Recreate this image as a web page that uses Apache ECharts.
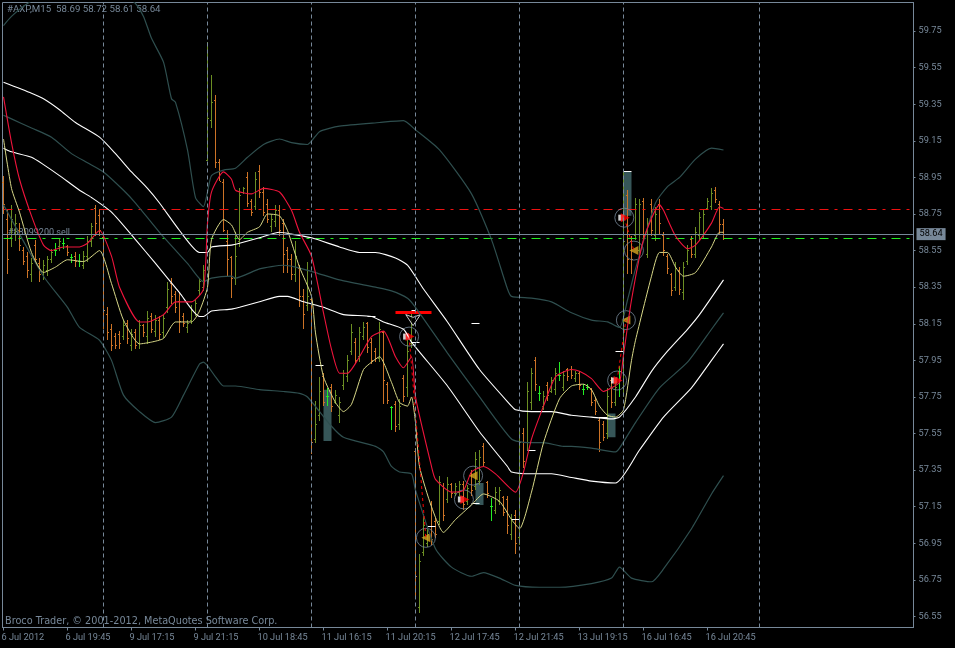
<!DOCTYPE html>
<html>
<head>
<meta charset="utf-8">
<title>#AXP,M15</title>
<script src="https://cdn.jsdelivr.net/npm/echarts@6/dist/echarts.min.js"></script>
<style>
  html, body { margin: 0; padding: 0; background: #000; }
  #chart { width: 955px; height: 648px; }
</style>
</head>
<body>
<div id="chart"></div>
<script>
// ---- chart data ----
const timeLabels = ['6 Jul 2012', '6 Jul 19:45', '9 Jul 17:15', '9 Jul 21:15', '10 Jul 18:45', '11 Jul 16:15',
  '11 Jul 20:15', '12 Jul 17:45', '12 Jul 21:45', '13 Jul 19:15', '16 Jul 16:45', '16 Jul 20:45']
const timeTickBars = [0, 16, 32, 48, 64, 80, 96, 112, 128, 144, 160, 176]
const priceTicks = [59.75, 59.55, 59.35, 59.15, 58.95, 58.75, 58.55, 58.35, 58.15, 57.95, 57.75, 57.55, 57.35, 57.15, 56.95, 56.75, 56.55]
const dayBreaks = [25, 51, 77, 103, 129, 155, 189]

const barOpen = [
  58.92, 58.72, 58.62, 58.64, 58.66, 58.55, 58.52, 58.42, 58.58, 58.48,
  58.42, 58.44, 58.50, 58.55, 58.57, 58.59, 58.57, 58.51, 58.52, 58.49,
  58.47, 58.52, 58.60, 58.78, 58.74, 58.62, 58.20, 58.12, 58.08, 58.09,
  58.08, 58.15, 58.03, 58.10, 58.04, 58.14, 58.08, 58.19, 58.11, 58.17,
  58.10, 58.24, 58.37, 58.31, 58.27, 58.19, 58.13, 58.17, 58.21, 58.33,
  58.35, 59.04, 59.26, 59.37, 59.03, 58.92, 58.60, 58.51, 58.40, 58.60,
  58.87, 58.95, 58.82, 58.79, 58.98, 58.87, 58.80, 58.68, 58.71, 58.77,
  58.70, 58.55, 58.50, 58.42, 58.45, 58.30, 58.25, 58.28, 57.52, 57.65,
  57.86, 57.75, 57.80, 57.72, 57.65, 57.81, 57.86, 58.00, 58.05, 57.97,
  58.08, 58.15, 58.05, 58.00, 57.96, 58.10, 57.82, 57.69, 57.71, 57.60,
  57.85, 57.80, 58.04, 57.45, 56.60, 56.90, 56.95, 57.16, 57.07, 57.07,
  57.26, 57.19, 57.27, 57.22, 57.23, 57.27, 57.18, 57.33, 57.26, 57.29,
  57.48, 57.28, 57.15, 57.13, 57.18, 57.20, 57.19, 57.00, 57.10, 56.98,
  57.55, 57.50, 57.72, 57.95, 57.77, 57.70, 57.81, 57.78, 57.79, 57.87,
  57.80, 57.90, 57.90, 57.85, 57.88, 57.79, 57.80, 57.79, 57.73, 57.62,
  57.60, 57.55, 57.84, 57.72, 57.89, 57.80, 58.85, 58.60, 58.63, 58.55,
  58.82, 58.53, 58.80, 58.63, 58.80, 58.63, 58.52, 58.42, 58.35, 58.44,
  58.32, 58.49, 58.61, 58.53, 58.63, 58.64, 58.78, 58.79, 58.88, 58.80,
  58.69
]
const barHigh = [
  58.96, 58.77, 58.80, 58.75, 58.70, 58.57, 58.54, 58.51, 58.61, 58.51,
  58.50, 58.52, 58.56, 58.59, 58.62, 58.62, 58.58, 58.53, 58.54, 58.53,
  58.55, 58.63, 58.70, 58.80, 58.78, 58.63, 58.24, 58.15, 58.10, 58.11,
  58.17, 58.17, 58.12, 58.12, 58.17, 58.15, 58.22, 58.21, 58.20, 58.19,
  58.20, 58.38, 58.40, 58.33, 58.32, 58.21, 58.17, 58.25, 58.28, 58.40,
  58.47, 59.69, 59.51, 59.40, 59.05, 58.94, 58.66, 58.52, 58.65, 58.89,
  58.90, 58.98, 58.83, 58.98, 59.02, 58.90, 58.83, 58.75, 58.80, 58.80,
  58.72, 58.57, 58.53, 58.60, 58.47, 58.34, 58.49, 58.29, 57.73, 57.86,
  57.88, 57.80, 57.82, 57.79, 57.75, 57.90, 57.98, 58.15, 58.07, 58.13,
  58.16, 58.16, 58.07, 58.02, 58.16, 58.11, 57.83, 57.70, 57.73, 57.74,
  57.87, 58.06, 58.22, 57.47, 56.89, 57.11, 57.03, 57.18, 57.09, 57.32,
  57.28, 57.31, 57.28, 57.28, 57.29, 57.29, 57.27, 57.35, 57.45, 57.46,
  57.50, 57.29, 57.20, 57.26, 57.26, 57.21, 57.21, 57.11, 57.13, 57.58,
  57.58, 57.83, 57.91, 57.97, 57.81, 57.78, 57.83, 57.86, 57.91, 57.94,
  57.89, 57.91, 57.92, 57.89, 57.89, 57.82, 57.82, 57.80, 57.75, 57.64,
  57.62, 57.80, 57.86, 57.84, 57.92, 58.98, 58.88, 58.63, 58.84, 58.83,
  58.84, 58.73, 58.83, 58.79, 58.83, 58.65, 58.53, 58.43, 58.49, 58.46,
  58.49, 58.58, 58.63, 58.68, 58.76, 58.77, 58.84, 58.89, 58.90, 58.82,
  58.72
]
const barLow = [
  58.75, 58.42, 58.57, 58.60, 58.55, 58.47, 58.40, 58.38, 58.48, 58.38,
  58.39, 58.41, 58.48, 58.52, 58.55, 58.56, 58.52, 58.48, 58.46, 58.46,
  58.45, 58.49, 58.57, 58.63, 58.63, 58.12, 58.06, 58.00, 58.01, 58.01,
  58.06, 58.04, 58.00, 58.01, 58.01, 58.08, 58.04, 58.10, 58.08, 58.06,
  58.07, 58.21, 58.26, 58.21, 58.10, 58.13, 58.10, 58.15, 58.19, 58.31,
  58.33, 59.04, 59.22, 59.00, 58.93, 58.65, 58.41, 58.29, 58.36, 58.57,
  58.86, 58.79, 58.74, 58.77, 58.84, 58.74, 58.70, 58.65, 58.68, 58.63,
  58.43, 58.43, 58.39, 58.38, 58.24, 58.12, 58.22, 57.44, 57.50, 57.62,
  57.70, 57.70, 57.67, 57.71, 57.61, 57.79, 57.83, 57.98, 57.93, 57.94,
  58.06, 57.99, 57.93, 57.94, 57.94, 57.71, 57.71, 57.57, 57.56, 57.57,
  57.72, 57.75, 58.02, 56.65, 56.57, 56.88, 56.93, 56.94, 56.98, 57.05,
  57.07, 57.17, 57.20, 57.21, 57.21, 57.13, 57.16, 57.21, 57.24, 57.27,
  57.37, 57.20, 57.07, 57.11, 57.16, 57.10, 57.00, 56.97, 56.89, 56.94,
  57.36, 57.46, 57.68, 57.78, 57.73, 57.68, 57.73, 57.77, 57.76, 57.84,
  57.78, 57.84, 57.85, 57.83, 57.79, 57.76, 57.79, 57.70, 57.65, 57.45,
  57.51, 57.52, 57.69, 57.70, 57.75, 57.75, 58.42, 58.42, 58.61, 58.51,
  58.60, 58.51, 58.63, 58.60, 58.64, 58.52, 58.42, 58.30, 58.33, 58.31,
  58.28, 58.47, 58.51, 58.51, 58.61, 58.62, 58.77, 58.77, 58.81, 58.64,
  58.61
]
const barClose = [
  58.80, 58.50, 58.72, 58.70, 58.58, 58.49, 58.44, 58.48, 58.50, 58.42,
  58.47, 58.50, 58.54, 58.55, 58.60, 58.59, 58.54, 58.51, 58.49, 58.49,
  58.52, 58.60, 58.68, 58.70, 58.66, 58.22, 58.10, 58.03, 58.03, 58.04,
  58.14, 58.07, 58.09, 58.03, 58.14, 58.10, 58.18, 58.12, 58.17, 58.09,
  58.18, 58.34, 58.30, 58.24, 58.16, 58.15, 58.15, 58.22, 58.26, 58.38,
  58.44, 59.27, 59.36, 59.03, 58.93, 58.66, 58.50, 58.40, 58.52, 58.85,
  58.89, 58.81, 58.76, 58.94, 58.87, 58.76, 58.72, 58.72, 58.77, 58.66,
  58.53, 58.50, 58.42, 58.52, 58.30, 58.20, 58.30, 57.50, 57.60, 57.78,
  57.72, 57.75, 57.70, 57.76, 57.72, 57.88, 57.95, 58.10, 57.95, 58.10,
  58.13, 58.02, 57.95, 57.96, 58.12, 57.84, 57.73, 57.69, 57.59, 57.70,
  57.75, 58.00, 58.18, 56.77, 56.85, 57.05, 57.00, 56.97, 57.00, 57.28,
  57.10, 57.27, 57.22, 57.26, 57.27, 57.16, 57.25, 57.24, 57.41, 57.42,
  57.39, 57.22, 57.15, 57.23, 57.24, 57.12, 57.05, 57.08, 56.95, 57.50,
  57.40, 57.78, 57.88, 57.82, 57.77, 57.75, 57.76, 57.84, 57.88, 57.87,
  57.87, 57.86, 57.87, 57.88, 57.81, 57.79, 57.80, 57.72, 57.67, 57.50,
  57.53, 57.75, 57.72, 57.80, 57.89, 58.60, 58.50, 58.50, 58.80, 58.80,
  58.63, 58.70, 58.66, 58.75, 58.70, 58.55, 58.45, 58.33, 58.45, 58.34,
  58.46, 58.55, 58.53, 58.65, 58.73, 58.75, 58.82, 58.86, 58.83, 58.69,
  58.64
]

// [bar, price]
const whiteUpper = [[0,59.47],[7,59.41],[10,59.38],[14,59.32],[18,59.25],[24,59.17],[28,59.08],[32,58.98],[36,58.89],[39,58.81],[44,58.66],[49,58.54],[51,58.54],[52,58.57],[57,58.58],[59,58.59],[64,58.62],[69,58.65],[72,58.64],[77,58.62],[84,58.57],[89,58.54],[93,58.54],[98,58.51],[101,58.47],[105,58.34],[111,58.16],[119,57.90],[127,57.70],[128,57.68],[132,57.67],[137,57.67],[142,57.65],[147,57.64],[152,57.63],[154,57.64],[158,57.75],[162,57.89],[166,58.00],[171,58.12],[174,58.20],[180,58.39]]
const whiteLower = [[0,59.11],[2,59.09],[7,59.06],[10,59.02],[14,58.96],[19,58.88],[22,58.84],[27,58.76],[33,58.61],[38,58.48],[44,58.32],[49,58.19],[50,58.19],[52,58.22],[57,58.23],[59,58.24],[64,58.27],[69,58.30],[71,58.30],[75,58.27],[80,58.24],[85,58.20],[92,58.19],[95,58.16],[100,58.12],[102,58.05],[111,57.81],[119,57.56],[126,57.37],[127,57.34],[132,57.33],[137,57.33],[142,57.31],[147,57.29],[153,57.28],[159,57.46],[165,57.64],[172,57.80],[177,57.95],[180,58.04]]
const bandUpper = [[0,59.78],[2,59.83],[6,59.90],[14,60.00],[24,60.03],[30,59.95],[33,59.90],[35,59.83],[37,59.71],[40,59.58],[42,59.38],[43,59.36],[46,59.10],[48,58.84],[50,58.79],[51,58.87],[52,58.96],[55,58.99],[58,59.00],[61,59.06],[65,59.13],[69,59.16],[72,59.14],[76,59.13],[79,59.20],[84,59.23],[94,59.25],[100,59.26],[103,59.21],[109,59.10],[117,58.86],[122,58.61],[126,58.34],[127,58.30],[132,58.29],[137,58.27],[142,58.21],[147,58.17],[151,58.16],[154,58.13],[156,58.28],[158,58.45],[163,58.81],[166,58.90],[169,58.95],[173,59.05],[177,59.11],[180,59.10]]
const bandMiddle = [[0,59.29],[2,59.27],[7,59.22],[12,59.17],[17,59.08],[21,59.03],[25,58.98],[30,58.88],[33,58.81],[39,58.65],[46,58.48],[50,58.38],[52,58.40],[57,58.41],[58,58.40],[64,58.45],[70,58.47],[73,58.46],[78,58.43],[84,58.39],[93,58.35],[97,58.33],[101,58.29],[103,58.24],[111,57.99],[119,57.75],[127,57.52],[131,57.50],[135,57.50],[140,57.48],[142,57.48],[147,57.47],[153,57.45],[154,57.47],[158,57.61],[164,57.80],[171,57.94],[177,58.12],[180,58.21]]
const bandLower = [[0,58.80],[10,58.41],[16,58.24],[19,58.13],[24,58.06],[27,57.95],[30,57.76],[34,57.67],[38,57.61],[42,57.64],[45,57.76],[49,57.93],[50,57.94],[53,57.86],[55,57.81],[58,57.81],[64,57.79],[70,57.78],[74,57.77],[76,57.75],[82,57.59],[85,57.53],[93,57.48],[95,57.45],[97,57.37],[99,57.34],[102,57.33],[103,57.24],[108,56.92],[112,56.82],[117,56.77],[120,56.79],[124,56.76],[128,56.72],[134,56.71],[139,56.71],[147,56.73],[152,56.76],[154,56.82],[157,56.76],[162,56.74],[165,56.81],[172,57.03],[177,57.22],[180,57.32]]
const fastLine = [[0,59.39],[2,59.14],[4,58.94],[7,58.74],[10,58.58],[12,58.55],[15,58.57],[19,58.57],[21,58.59],[24,58.66],[27,58.52],[29,58.35],[34,58.16],[36,58.16],[40,58.20],[43,58.27],[47,58.27],[50,58.34],[51,58.70],[52,58.87],[55,58.98],[57,58.94],[58,58.88],[62,58.86],[65,58.89],[69,58.87],[72,58.77],[74,58.65],[77,58.52],[80,58.21],[82,58.01],[84,57.88],[86,57.88],[89,57.97],[92,58.08],[95,58.11],[98,57.97],[100,57.91],[102,57.97],[103,57.75],[107,57.37],[108,57.30],[112,57.23],[115,57.24],[117,57.34],[120,57.37],[123,57.33],[128,57.23],[130,57.34],[132,57.52],[135,57.70],[138,57.86],[142,57.90],[144,57.89],[147,57.85],[150,57.78],[152,57.80],[154,57.83],[155,57.98],[157,58.28],[160,58.61],[164,58.80],[165,58.77],[168,58.63],[171,58.56],[173,58.58],[177,58.70],[179,58.79],[180,58.78]]
const slowLine = [[0,59.16],[2,58.89],[4,58.76],[7,58.54],[10,58.43],[13,58.46],[16,58.50],[20,58.49],[24,58.55],[27,58.37],[30,58.17],[34,58.04],[37,58.05],[40,58.07],[43,58.16],[47,58.16],[49,58.22],[51,58.35],[52,58.61],[55,58.72],[57,58.69],[59,58.61],[61,58.65],[64,58.68],[66,58.75],[69,58.74],[71,58.66],[74,58.46],[77,58.30],[78,58.10],[80,57.86],[83,57.72],[85,57.67],[87,57.71],[90,57.90],[92,57.94],[94,57.97],[97,57.83],[99,57.72],[101,57.70],[102,57.75],[103,57.61],[104,57.37],[107,57.15],[110,57.01],[113,57.08],[117,57.16],[120,57.22],[124,57.18],[127,57.08],[129,57.03],[132,57.23],[135,57.50],[139,57.74],[142,57.81],[145,57.82],[147,57.79],[149,57.70],[151,57.65],[153,57.64],[155,57.68],[157,57.95],[158,58.06],[162,58.41],[164,58.54],[166,58.54],[168,58.46],[170,58.41],[173,58.43],[177,58.57],[179,58.65],[180,58.65]]

const bidPrice = 58.64
const redLevel = 58.775
const greenLevel = 58.614

// [from bar, to bar, top price, bottom price]
const blocks = [[80, 82, 57.79, 57.51], [118, 120, 57.28, 57.16], [151, 153, 57.66, 57.53], [155, 157, 58.98, 58.74]]
// [from bar, to bar, price]
const whiteDashes = [[78, 80, 57.92], [117, 119, 58.15], [131, 133, 57.46], [102, 104, 58.05], [102, 103, 58.22], [106, 108, 57.04],
  [117, 119, 57.17], [127, 129, 57.08], [153, 155, 58.00], [155, 157, 58.98], [149, 151, 57.64], [91, 93, 58.19]]
const stopLevel = [[98, 107, 58.21]]

// circled trade signals, [bar, price]
const sellSignals = [[101.4, 58.08], [115.1, 57.19], [153.4, 57.84], [155.2, 58.73]]
const closeSignals = [[105.6, 56.98], [117.4, 57.32], [157.6, 58.55], [155.6, 58.17]]
const tradeLegs = [
  [[101.4, 58.08], [105.6, 56.98]],
  [[153.4, 57.84], [155.6, 58.17]],
  [[155.2, 58.73], [157.6, 58.55]]
]
const downArrow = [[102.4, 58.14]]

const slate = '#778899'
const bars = barOpen.map((open, i) => [i, open, barHigh[i], barLow[i], barClose[i]])
const redLevelRow = [[0, 227, redLevel]]
const greenLevelRow = [[0, 227, greenLevel]]

function crisp(v) {
  return Math.round(v - 0.5) + 0.5
}

function renderBar(params, api) {
  const i = api.value(0)
  const open = api.value(1)
  const close = api.value(4)
  const x = crisp(api.coord([i, open])[0])
  const yOpen = crisp(api.coord([i, open])[1])
  const yClose = crisp(api.coord([i, close])[1])
  const yHigh = Math.round(api.coord([i, api.value(2)])[1])
  const yLow = Math.round(api.coord([i, api.value(3)])[1])
  let color = '#6b8e23'
  if (close < open) color = '#cc7326'
  if (close === open) color = '#22ee22'
  const style = { stroke: color, lineWidth: 1, fill: null }
  return {
    type: 'group',
    children: [
      { type: 'line', shape: { x1: x, y1: yHigh, x2: x, y2: yLow }, style },
      { type: 'line', shape: { x1: x - 1.5, y1: yOpen, x2: x - 0.5, y2: yOpen }, style },
      { type: 'line', shape: { x1: x + 0.5, y1: yClose, x2: x + 1.5, y2: yClose }, style }
    ]
  }
}

function renderBlock(params, api) {
  const a = api.coord([api.value(0), api.value(2)])
  const b = api.coord([api.value(1), api.value(3)])
  return {
    type: 'rect',
    shape: { x: a[0], y: a[1], width: b[0] - a[0], height: b[1] - a[1] },
    style: { fill: '#365658' }
  }
}

function renderDash(width, color, dash) {
  return function (params, api) {
    const a = api.coord([api.value(0), api.value(2)])
    const b = api.coord([api.value(1), api.value(2)])
    const y = crisp(a[1])
    return {
      type: 'line',
      shape: { x1: a[0], y1: y, x2: b[0], y2: y },
      style: { stroke: color, lineWidth: width, fill: null, lineDash: dash || null }
    }
  }
}

function lineSeries(data, color, width) {
  return {
    type: 'line',
    data,
    showSymbol: false,
    silent: true,
    clip: true,
    smooth: 0.2,
    lineStyle: { color, width }
  }
}

const chart = echarts.init(document.getElementById('chart'), null, { renderer: 'canvas' })

chart.setOption({
  animation: false,
  backgroundColor: '#000',
  textStyle: { fontFamily: 'Roboto, sans-serif' },
  grid: {
    show: true,
    left: 2.5,
    top: 2.5,
    width: 911,
    height: 625,
    outerBoundsMode: 'none',
    backgroundColor: 'transparent',
    borderColor: slate,
    borderWidth: 1
  },
  xAxis: {
    type: 'value',
    min: -0.25,
    max: 227.5,
    splitLine: { show: false },
    axisLine: { show: true, onZero: false, lineStyle: { color: slate } },
    axisTick: { show: true, length: 3, customValues: timeTickBars, lineStyle: { color: slate } },
    axisLabel: {
      customValues: timeTickBars,
      formatter: (value) => timeLabels[timeTickBars.indexOf(value)] || '',
      color: slate,
      fontSize: 9.2,
      fontFamily: 'Roboto, sans-serif',
      align: 'left',
      margin: 6,
      padding: [0, 0, 0, -2],
      hideOverlap: false
    }
  },
  yAxis: {
    type: 'value',
    position: 'right',
    min: 56.49,
    max: 59.906,
    splitLine: { show: false },
    axisLine: { show: true, onZero: false, lineStyle: { color: slate } },
    axisTick: { show: true, length: 2, customValues: priceTicks, lineStyle: { color: slate } },
    axisLabel: {
      customValues: priceTicks,
      formatter: (value) => value.toFixed(2),
      color: slate,
      fontSize: 9.2,
      margin: 5,
      padding: [2, 0, 0, 0],
      hideOverlap: false
    }
  },
  series: [
    {
      type: 'custom',
      data: blocks,
      clip: true,
      silent: true,
      renderItem: renderBlock
    },
    {
      type: 'custom',
      data: bars,
      clip: true,
      silent: true,
      renderItem: renderBar
    },
    lineSeries(bandUpper, '#2f4f4f', 1.2),
    lineSeries(bandMiddle, '#2f4f4f', 1.2),
    lineSeries(bandLower, '#2f4f4f', 1.2),
    lineSeries(whiteUpper, '#ffffff', 1.1),
    lineSeries(whiteLower, '#ffffff', 1.1),
    lineSeries(slowLine, '#d8d888', 1),
    lineSeries(fastLine, '#f0143c', 1.1),
    {
      type: 'custom',
      data: redLevelRow,
      clip: true,
      silent: true,
      renderItem: renderDash(1, '#ee1111', [9, 6, 3, 6])
    },
    {
      type: 'custom',
      data: greenLevelRow,
      clip: true,
      silent: true,
      renderItem: renderDash(1, '#22ee22', [9, 6, 3, 6])
    },
    {
      // bid line with its price tag, and the day separators
      type: 'line',
      data: [],
      silent: true,
      markLine: {
        silent: true,
        symbol: 'none',
        animation: false,
        data: [
          {
            yAxis: bidPrice,
            lineStyle: { color: slate, width: 1, type: 'solid' },
            label: {
              show: true,
              position: 'end',
              distance: 3,
              formatter: bidPrice.toFixed(2),
              color: '#000',
              fontSize: 9.2,
              backgroundColor: slate,
              padding: [2, 3, 1, 3]
            }
          }
        ].concat(dayBreaks.map((bar) => ({
          xAxis: bar,
          lineStyle: { color: slate, width: 1, type: [4, 3] },
          label: { show: false }
        })))
      }
    },
    ...tradeLegs.map((leg) => ({
      type: 'line',
      data: leg,
      showSymbol: false,
      silent: true,
      lineStyle: { color: '#ff0000', width: 1, type: [3, 3] }
    })),
    {
      type: 'custom',
      data: whiteDashes,
      clip: true,
      silent: true,
      renderItem: renderDash(1, '#ffffff')
    },
    {
      type: 'custom',
      data: stopLevel,
      clip: true,
      silent: true,
      renderItem: renderDash(3, '#ff0000')
    },
    {
      type: 'scatter',
      data: sellSignals.concat(closeSignals),
      symbol: 'circle',
      symbolSize: 19,
      silent: true,
      itemStyle: { color: 'transparent', borderColor: slate, borderWidth: 1 }
    },
    {
      type: 'scatter',
      data: sellSignals,
      symbol: 'rect',
      symbolSize: 6,
      symbolOffset: [-3, 0],
      silent: true,
      itemStyle: { color: '#fff' }
    },
    {
      type: 'scatter',
      data: sellSignals,
      symbol: 'triangle',
      symbolSize: 9,
      symbolRotate: -90,
      symbolOffset: [1, 0],
      silent: true,
      itemStyle: { color: '#ff0000' }
    },
    {
      type: 'scatter',
      data: closeSignals,
      symbol: 'triangle',
      symbolSize: 9,
      symbolRotate: 90,
      silent: true,
      itemStyle: { color: '#daa520' }
    },
    {
      type: 'scatter',
      data: downArrow,
      symbol: 'arrow',
      symbolSize: 11,
      symbolRotate: 180,
      silent: true,
      itemStyle: { color: '#000', borderColor: '#fff', borderWidth: 1 }
    }
  ],
  graphic: [
    {
      type: 'text',
      left: 7,
      top: 5,
      style: { text: '#AXP,M15  58.69 58.72 58.61 58.64', fill: slate, font: '9.7px Roboto, sans-serif' },
      silent: true
    },
    {
      type: 'text',
      left: 8,
      top: 228,
      style: { text: '#88099200 sell', fill: slate, font: '9px Roboto, sans-serif' },
      silent: true
    },
    {
      type: 'text',
      left: 5,
      top: 616,
      style: { text: 'Broco Trader, © 2001-2012, MetaQuotes Software Corp.', fill: slate, font: '9.7px "DejaVu Sans", sans-serif' },
      silent: true
    }
  ]
})
</script>
</body>
</html>
